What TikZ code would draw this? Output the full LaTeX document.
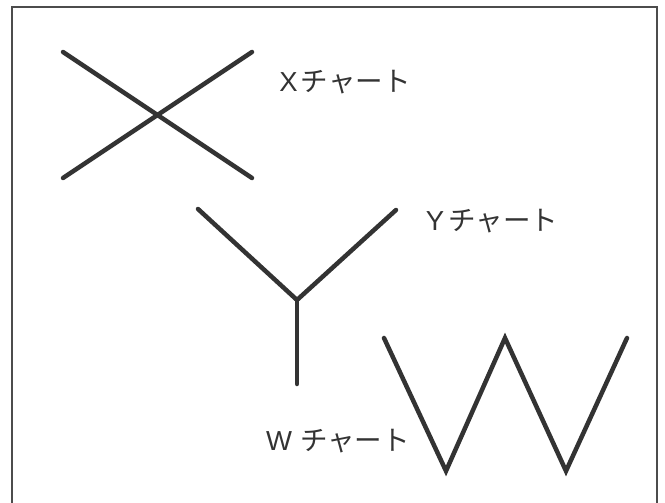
\documentclass[tikz,border=0pt]{standalone}
\usepackage{fontspec}
\newfontfamily\jpfont{Noto Sans CJK JP}
\newfontfamily\latfont{Liberation Sans}
\begin{document}
\begin{tikzpicture}[x=1pt,y=-1pt,
  stroke/.style={draw=black!80, line width=4.5pt, line cap=round, line join=miter},
  frame/.style={draw=black!70, line width=1.8pt},
  lbl/.style={font=\jpfont\fontsize{27.5}{30}\selectfont, text=black!80, inner sep=0pt}]
\useasboundingbox (0,0) rectangle (665,503);
\begin{scope}
\clip (0,0) rectangle (665,503);
\draw[frame] (12,520) -- (12,7) -- (657,7) -- (657,520);
\end{scope}
% X chart
\coordinate (xa) at (63,52);
\coordinate (xb) at (252,178);
\coordinate (xc) at (63,178);
\coordinate (xd) at (252,52);
\draw[stroke] (xa) -- (xb);
\draw[stroke] (xc) -- (xd);
% Y chart
\coordinate (ya) at (198,209);
\coordinate (yj) at (297,300);
\coordinate (yb) at (396,210);
\coordinate (ys) at (297,384);
\draw[stroke] (ya) -- (yj) -- (yb);
\draw[stroke] (yj) -- (ys);
% W chart
\coordinate (w1) at (384,338);
\coordinate (w2) at (446,471);
\coordinate (w3) at (505,338);
\coordinate (w4) at (566,471);
\coordinate (w5) at (627,338);
\draw[stroke] (w1) -- (w2) -- (w3) -- (w4) -- (w5);
% labels
\node[lbl] (lx) at (345,82) {{\latfont X}\kern3ptチャート};
\node[lbl] (ly) at (492,221) {{\latfont Y}\kern4ptチャート};
\node[lbl] (lw) at (338,441) {{\latfont W}\kern8ptチャート};
\end{tikzpicture}
\end{document}
